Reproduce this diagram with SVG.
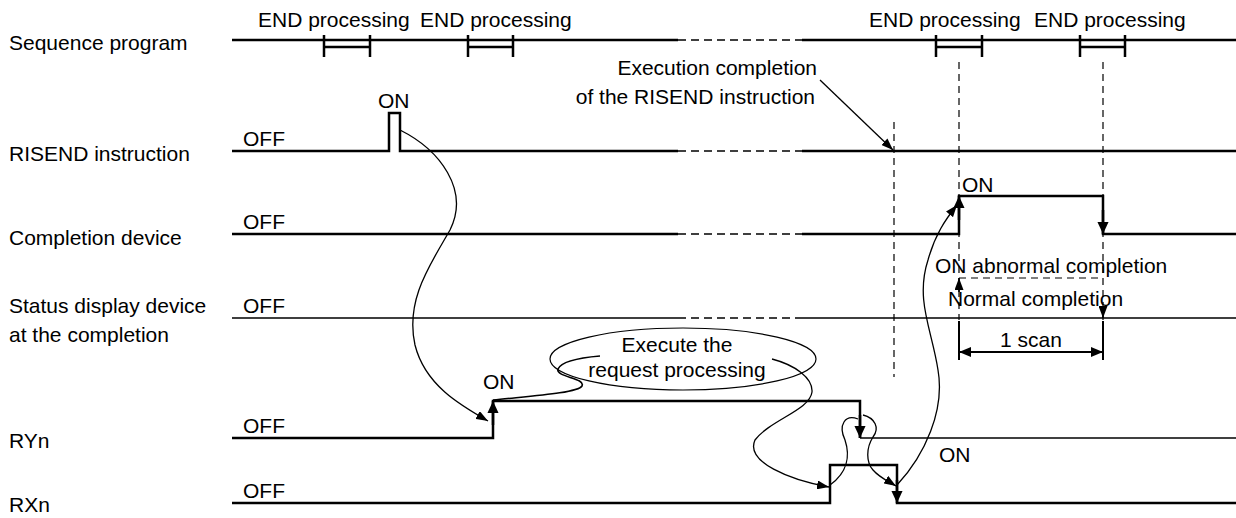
<svg xmlns="http://www.w3.org/2000/svg" width="1236" height="518" viewBox="0 0 1236 518">
<style>
text{font-family:"Liberation Sans",Arial,sans-serif;font-size:21px;fill:#000}
.thick{fill:none;stroke:#000;stroke-width:2.5}
.thin{fill:none;stroke:#000;stroke-width:1.6}
.dash{fill:none;stroke:#000;stroke-width:1.6;stroke-dasharray:8 5}
.vdash{fill:none;stroke:#000;stroke-width:1.2;stroke-dasharray:7 5}
.curve{fill:none;stroke:#000;stroke-width:1.3}
.edge{fill:none;stroke:#000;stroke-width:2.5;marker-end:url(#big)}
</style>
<defs>
<marker id="big" markerUnits="userSpaceOnUse" markerWidth="12" markerHeight="14" refX="13" refY="6" orient="auto" viewBox="0 0 13 12">
<path d="M0,0 L13,6 L0,12 z" fill="#000"/>
</marker>
<marker id="sm" markerUnits="userSpaceOnUse" markerWidth="12" markerHeight="9" refX="12" refY="4.5" orient="auto" viewBox="0 0 12 9">
<path d="M0,0 L12,4.5 L0,9 z" fill="#000"/>
</marker>
<marker id="dim" markerUnits="userSpaceOnUse" markerWidth="12" markerHeight="10" refX="12" refY="5" orient="auto-start-reverse" viewBox="0 0 12 10">
<path d="M0,0 L12,5 L0,10 z" fill="#000"/>
</marker>
</defs>

<g id="labels">
<text x="9" y="50">Sequence program</text>
<text x="9" y="161">RISEND instruction</text>
<text x="9" y="245">Completion device</text>
<text x="9" y="313">Status display device</text>
<text x="9" y="342">at the completion</text>
<text x="9" y="448">RYn</text>
<text x="9" y="512">RXn</text>
</g>

<g id="seq">
<path class="thick" d="M232,40 H678 M802,40 H1236"/>
<path class="dash" d="M678,40 H802"/>
<path class="thick" d="M324,35 V57 M370,35 V57 M324,47 H370"/>
<path class="thick" d="M468,35 V57 M513,35 V57 M468,47 H513"/>
<path class="thick" d="M936,35 V57 M982,35 V57 M936,47 H982"/>
<path class="thick" d="M1080,35 V57 M1125,35 V57 M1080,47 H1125"/>
<text x="258" y="27">END processing</text>
<text x="420" y="27">END processing</text>
<text x="869" y="27">END processing</text>
<text x="1034" y="27">END processing</text>
</g>

<g id="risend">
<path class="thick" d="M232,151 H389 V113 H400 V151 H678 M802,151 H1236"/>
<path class="dash" d="M678,151 H802"/>
<text x="243" y="146">OFF</text>
<text x="378" y="108">ON</text>
</g>

<g id="completion">
<path class="thick" d="M232,234 H678 M802,234 H959 V196 H1103 V234 H1236"/>
<path class="dash" d="M678,234 H802"/>
<path class="edge" d="M959,220 V196"/>
<path class="edge" d="M1103,210 V234"/>
<text x="243" y="229">OFF</text>
<text x="962" y="192">ON</text>
</g>

<g id="status">
<path class="thin" d="M232,318 H678 M802,318 H1236"/>
<path class="dash" d="M678,318 H802"/>
<path class="vdash" d="M959,278 H1103"/>
<path class="thin" d="M959,292 V278" style="marker-end:url(#sm)"/>
<path class="thin" d="M1103,306 V318" style="marker-end:url(#sm)"/>
<text x="243" y="313">OFF</text>
<text x="935" y="273">ON abnormal completion</text>
<text x="948" y="306">Normal completion</text>
</g>

<g id="guides">
<path class="vdash" d="M894,122 V377"/>
<path class="vdash" d="M959,62 V320"/>
<path class="vdash" d="M1103,62 V320"/>
</g>

<g id="scan">
<path class="thick" d="M959,321 V360 M1103,321 V360" style="stroke-width:2"/>
<path class="thin" d="M959,352 H1103" style="stroke-width:2;marker-start:url(#dim);marker-end:url(#dim)"/>
<text x="1000" y="347">1 scan</text>
</g>

<g id="ryn">
<path class="thick" d="M232,438 H493 V401 H860 V438"/>
<path class="thin" d="M860,438 H1236"/>
<path class="edge" d="M493,425 V401"/>
<path class="edge" d="M860,415 V438"/>
<text x="243" y="433">OFF</text>
<text x="483" y="389">ON</text>
</g>

<g id="rxn">
<path class="thick" d="M232,503 H830 V465 H897 V503 H1236"/>
<path class="edge" d="M897,480 V503"/>
<text x="243" y="498">OFF</text>
<text x="939" y="462">ON</text>
</g>

<g id="request">
<ellipse cx="683" cy="359" rx="133" ry="31" fill="none" stroke="#000" stroke-width="1.2"/>
<text x="677" y="352" text-anchor="middle">Execute the</text>
<text x="677" y="377" text-anchor="middle">request processing</text>
</g>

<g id="note">
<text x="817" y="75" text-anchor="end">Execution completion</text>
<text x="815" y="104" text-anchor="end">of the RISEND instruction</text>
</g>

<g id="connectors">
<path class="curve" d="M820,80 L893,150" style="marker-end:url(#sm)"/>
<path class="curve" d="M400,130 C440,150 470,190 450,230 C430,265 405,300 415,345 C425,385 460,405 488,421" style="marker-end:url(#sm)"/>
<path class="curve" d="M493,400 C530,396 578,393 582,386 C586,378 555,377 558,369 C562,360 588,357 600,356" style="stroke-width:1.6"/>
<path class="curve" d="M772,359 C795,365 813,378 812,392 C810,410 770,420 755,440 C745,462 790,480 829,487" style="marker-end:url(#sm)"/>
<path class="curve" d="M830,485 C848,472 850,455 845,440 C838,425 845,414 858,419"/>
<path class="curve" d="M863,415 C875,418 880,428 873,437 C866,448 866,462 873,470 C880,478 888,481 896,486" style="marker-end:url(#sm)"/>
<path class="curve" d="M897,485 C925,455 945,410 938,370 C932,330 915,300 928,260 C935,235 945,220 957,205" style="marker-end:url(#sm)"/>
</g>
</svg>
